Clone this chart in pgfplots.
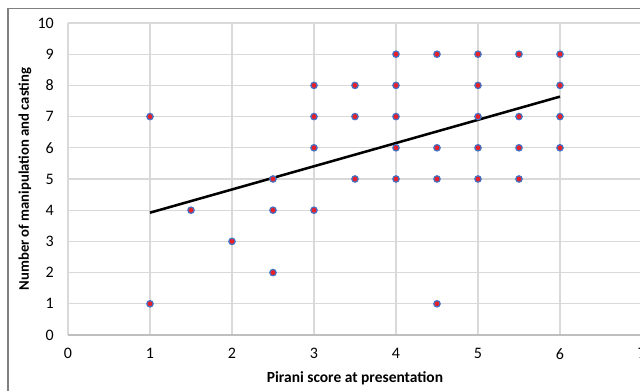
\documentclass[border=0pt]{standalone}
\usepackage{fontspec}
\setmainfont{Carlito}
\usepackage{pgfplots}
\pgfplotsset{compat=1.18}
\definecolor{gridc}{HTML}{D9D9D9}
\definecolor{axc}{HTML}{BFBFBF}
\definecolor{mblue}{HTML}{4472C4}
\definecolor{mred}{HTML}{E8202A}
\definecolor{framec}{HTML}{808080}
\begin{document}
\fontsize{11.5pt}{13.5pt}\selectfont
\begin{tikzpicture}
\useasboundingbox (0,0) rectangle (480pt,293.25pt);
\clip (0,0) rectangle (480pt,293.25pt);
\draw[color=framec, line width=0.9pt] (6pt,-20pt) -- (6pt,286.9pt) -- (520pt,286.9pt);
\begin{axis}[
  at={(51pt,42pt)}, anchor=south west,
  scale only axis, width=430.5pt, height=234pt,
  xmin=0, xmax=7, ymin=0, ymax=10,
  xtick={0,...,7}, ytick={0,...,10},
  grid=major, major grid style={draw=gridc, line width=0.9pt},
  axis line style={draw=none}, tick style={draw=none},
  clip=false,
  /pgf/number format/assume math mode=true,
  xticklabel style={anchor=center, font=\fontsize{12pt}{14pt}\selectfont},
  xticklabel shift=14pt,
  yticklabel style={anchor=east, inner sep=0pt, font=\fontsize{12pt}{14pt}\selectfont},
  yticklabel shift=10.5pt,
  xlabel={\bfseries\fontsize{11.6pt}{13.5pt}\selectfont Pirani score at presentation},
  xlabel style={at={(axis description cs:0.5,0)}, anchor=center, yshift=-32.25pt},
  ylabel={\bfseries\fontsize{11pt}{13.5pt}\selectfont Number of manipulation and casting},
  ylabel style={at={(axis description cs:0,0.5)}, anchor=center, rotate=0, yshift=32.25pt},
]
\draw[axc, line width=0.9pt] (axis cs:0,0) -- (axis cs:7,0);
\addplot[only marks, mark=*, mark size=2.4pt, mark options={fill=mred, draw=mblue, line width=0.9pt}] coordinates {
(1,7) (1,1)
(1.5,4)
(2,3)
(2.5,5) (2.5,4) (2.5,2)
(3,8) (3,7) (3,6) (3,4)
(3.5,8) (3.5,7) (3.5,5)
(4,9) (4,8) (4,7) (4,6) (4,5)
(4.5,9) (4.5,6) (4.5,5) (4.5,1)
(5,9) (5,8) (5,7) (5,6) (5,5)
(5.5,9) (5.5,7) (5.5,6) (5.5,5)
(6,9) (6,8) (6,7) (6,6)
};
\addplot[black, line width=1.9pt] coordinates {(1,3.92) (6,7.64)};
\end{axis}
\end{tikzpicture}
\end{document}
